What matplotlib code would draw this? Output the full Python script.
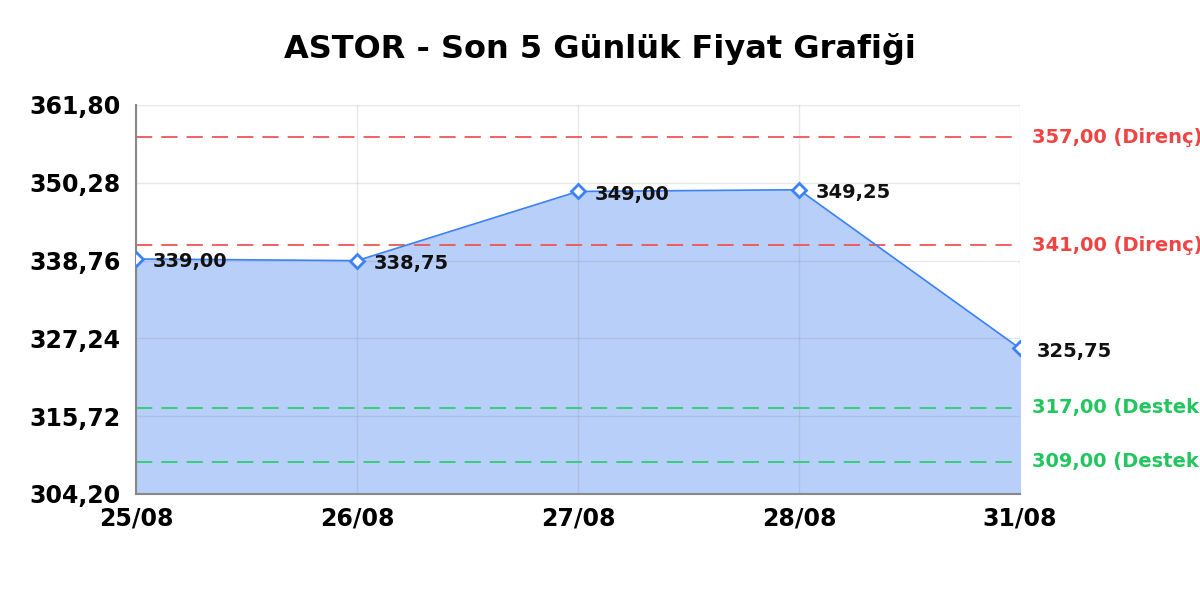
import matplotlib.pyplot as plt
import numpy as np

# Data
dates = ['25/08', '26/08', '27/08', '28/08', '31/08']
prices = [339.00, 338.75, 349.00, 349.25, 325.75]
resistance = [357.00, 341.00]
support = [317.00, 309.00]
y_ticks = [304.20, 315.72, 327.24, 338.76, 350.28, 361.80]


def tr(v):
    return f"{v:.2f}".replace('.', ',')


fig = plt.figure(figsize=(12, 6), dpi=100)
ax = fig.add_axes([0.1133, 0.1767, 0.7367, 0.6483])

x = np.arange(len(dates))
ax.fill_between(x, prices, y_ticks[0], color='#b8cff9', zorder=1)
ax.plot(x, prices, color='#3b82f6', lw=1.2, zorder=3)
ax.plot(x, prices, linestyle='None', marker='D', markersize=7,
        markerfacecolor='white', markeredgecolor='#3b82f6', markeredgewidth=2, zorder=4)

for xi, p in zip(x, prices):
    ax.annotate(tr(p), (xi, p), xytext=(12, -2), textcoords='offset points',
                ha='left', va='center', fontsize=14, fontweight='bold', color='#111111', zorder=5)

# support / resistance levels (labels run off the right edge as in the original)
for r in resistance:
    ax.axhline(r, color='#ef5555', lw=1.3, dashes=(9, 5), zorder=2)
    ax.text(1.014, r, f"{tr(r)} (Direnç)", transform=ax.get_yaxis_transform(),
            ha='left', va='center', fontsize=14, fontweight='bold', color='#ef4444', clip_on=False)
for s in support:
    ax.axhline(s, color='#2ecc71', lw=1.3, dashes=(9, 5), zorder=2)
    ax.text(1.014, s, f"{tr(s)} (Destek)", transform=ax.get_yaxis_transform(),
            ha='left', va='center', fontsize=14, fontweight='bold', color='#22c55e', clip_on=False)

ax.set_xlim(0, len(dates) - 1)
ax.set_ylim(y_ticks[0], y_ticks[-1])
ax.set_xticks(x)
ax.set_xticklabels(dates)
ax.set_yticks(y_ticks)
ax.set_yticklabels([tr(v) for v in y_ticks])
ax.tick_params(axis='y', length=0, labelsize=17, pad=11)
ax.tick_params(axis='x', length=0, labelsize=17, pad=9)
for lab in ax.get_xticklabels() + ax.get_yticklabels():
    lab.set_fontweight('bold')

ax.grid(True, color='#888888', alpha=0.2, lw=1)
ax.set_axisbelow(False)
for side in ['top', 'right']:
    ax.spines[side].set_visible(False)
for side in ['left', 'bottom']:
    ax.spines[side].set_color('#888888')
    ax.spines[side].set_linewidth(1.5)

fig.text(0.5, 0.918, 'ASTOR - Son 5 Günlük Fiyat Grafiği', ha='center', va='center',
         fontsize=23, fontweight='bold')

fig.savefig('out.png', dpi=100)
